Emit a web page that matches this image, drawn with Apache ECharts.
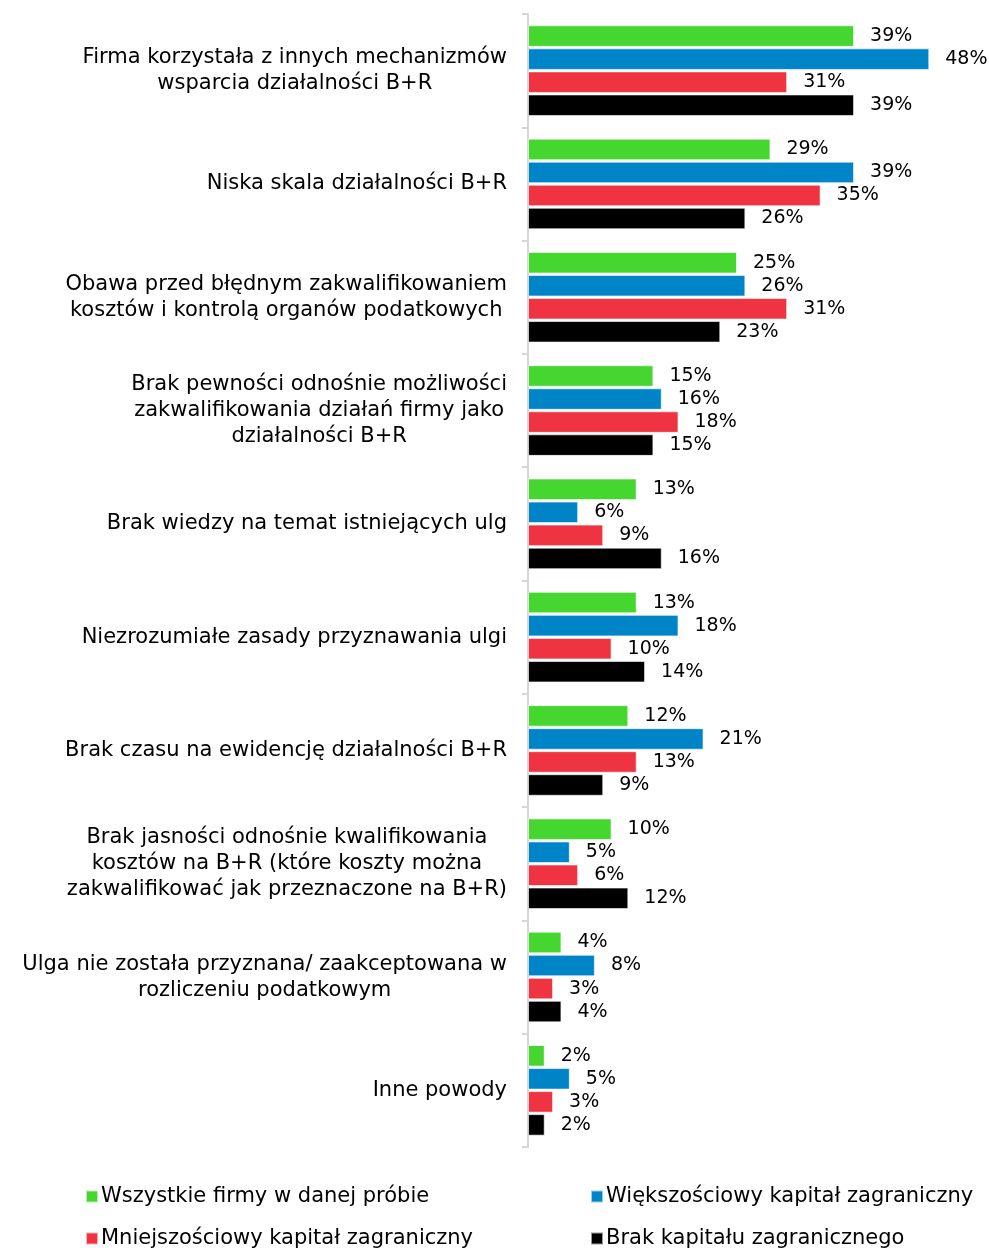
<!DOCTYPE html>
<html>
<head>
<meta charset="utf-8">
<script src="https://cdn.jsdelivr.net/npm/echarts@6/dist/echarts.min.js"></script>
<style>
  html, body { margin: 0; padding: 0; background: #fff; }
  #chart { width: 989px; height: 1248px; }
</style>
</head>
<body>
<div id="chart"></div>
<script>
// Reasons for not using the R&D tax relief, by ownership structure (%)
const categories = [
  'Firma korzystała z innych mechanizmów\nwsparcia działalności B+R',
  'Niska skala działalności B+R',
  'Obawa przed błędnym zakwalifikowaniem\nkosztów i kontrolą organów podatkowych',
  'Brak pewności odnośnie możliwości\nzakwalifikowania działań firmy jako\ndziałalności B+R',
  'Brak wiedzy na temat istniejących ulg',
  'Niezrozumiałe zasady przyznawania ulgi',
  'Brak czasu na ewidencję działalności B+R',
  'Brak jasności odnośnie kwalifikowania\nkosztów na B+R (które koszty można\nzakwalifikować jak przeznaczone na B+R)',
  'Ulga nie została przyznana/ zaakceptowana w\nrozliczeniu podatkowym',
  'Inne powody'
];

const seriesNames = [
  'Wszystkie firmy w danej próbie',
  'Większościowy kapitał zagraniczny',
  'Mniejszościowy kapitał zagraniczny',
  'Brak kapitału zagranicznego'
];

const allFirms        = [39, 29, 25, 15, 13, 13, 12, 10, 4, 2];
const majorityForeign = [48, 39, 26, 16, 6, 18, 21, 5, 8, 5];
const minorityForeign = [31, 35, 31, 18, 9, 10, 13, 6, 3, 3];
const noForeign       = [39, 26, 23, 15, 16, 14, 9, 12, 4, 2];

const seriesValues = [allFirms, majorityForeign, minorityForeign, noForeign];
const colors = ['#46d630', '#0084c8', '#ef3340', '#000000'];

const FONT = 'DejaVu Sans';
const CAT_SIZE = 21;

const chart = echarts.init(document.getElementById('chart'), null, { renderer: 'canvas' });

// legend entries laid out as a 2x2 block under the plot
const legendPos = [
  { left: 85, top: 1186 },
  { left: 590, top: 1186 },
  { left: 85, top: 1228 },
  { left: 590, top: 1228 }
];

chart.setOption({
  animation: false,
  backgroundColor: '#ffffff',
  grid: { left: 528, right: 43, top: 14, bottom: 101, containLabel: false },
  xAxis: {
    type: 'value',
    min: 0,
    max: 50,
    show: false
  },
  yAxis: {
    type: 'category',
    inverse: true,
    data: categories,
    axisLine: { show: true, lineStyle: { color: '#d6d6d6', width: 2 } },
    axisTick: { show: true, length: 6, lineStyle: { color: '#d6d6d6', width: 2 } },
    axisLabel: {
      margin: 21,
      align: 'right',
      // each line centred inside the right-aligned label block
      formatter: (v) => v.split('\n').map((l) => '{c|' + l + '}').join('\n'),
      rich: {
        c: {
          align: 'center',
          color: '#000',
          fontFamily: FONT,
          fontSize: CAT_SIZE,
          lineHeight: 26
        }
      }
    },
    splitLine: { show: false }
  },
  legend: legendPos.map((p, i) => ({
    left: p.left,
    top: p.top,
    padding: 0,
    data: [seriesNames[i]],
    icon: 'rect',
    itemWidth: 12,
    itemHeight: 12,
    itemGap: 0,
    textStyle: { fontFamily: FONT, fontSize: CAT_SIZE, color: '#000', padding: [0, 0, 0, -2] },
    selectedMode: false
  })),
  series: seriesValues.map((vals, i) => ({
    name: seriesNames[i],
    type: 'bar',
    data: vals,
    barGap: '7%',
    barCategoryGap: '20%',
    itemStyle: { color: colors[i], borderColor: 'rgba(255,255,255,0.6)', borderWidth: 1 },
    label: {
      show: true,
      position: 'right',
      distance: 16,
      formatter: '{c}%',
      color: '#000',
      fontFamily: FONT,
      fontSize: 19
    }
  }))
});
</script>
</body>
</html>
